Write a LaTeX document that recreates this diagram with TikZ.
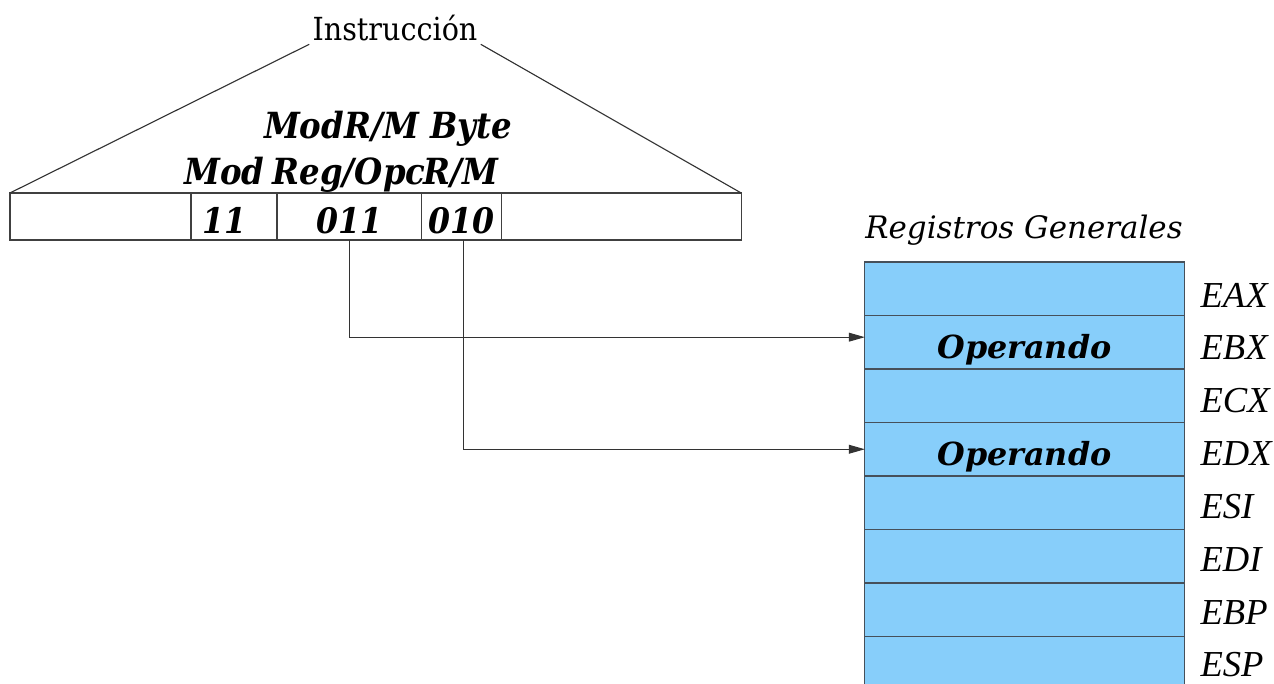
\documentclass[tikz,border=0pt]{standalone}
\usepackage{fontspec}
\setmainfont{DejaVu Serif}
\newfontfamily\condserif{DejaVu Serif Condensed}
\newfontfamily\regserif{Liberation Serif}
\usetikzlibrary{positioning,arrows.meta}
\definecolor{regblue}{RGB}{135,206,250}
\definecolor{regline}{RGB}{70,80,90}
\tikzset {
    style A/.style={
        draw=black!75,
        rectangle, % Set the shape as a rectangle
        inner sep=0pt,
        outer sep=0pt,
        minimum height=5.875mm,
        text height=11.8pt,
        text depth=0pt,
        font=\condserif\bfseries\itshape\fontsize{12.5}{14}\selectfont,
    },
    style B/.style={
        fill=regblue,
        draw=regline,
        rectangle, % Set the shape as a rectangle
        inner sep=0pt,
        outer sep=0pt,
        minimum width=3.99cm,
        minimum height=6.6875mm,
        text height=11.4pt,
        text depth=0pt,
        font=\bfseries\itshape\fontsize{11.3}{13}\selectfont,
    },
    style C/.style={
        inner sep=0pt,
        font=\condserif\bfseries\itshape\fontsize{12.8}{15}\selectfont,
    },
    style D/.style={
        inner sep=0pt,
        anchor=west,
        font=\regserif\itshape\fontsize{13}{15}\selectfont,
    },
    style F/.style={
        draw=black!80,
        -{Triangle[length=2mm,width=1.1mm]},
    },
}
\begin{document}
\begin{tikzpicture}[x=0.0125cm, y=-0.0125cm]
    \useasboundingbox (0,0) rectangle (1274,684);

    % instruction bar
    \node[style A, minimum width=2.2625cm] (c0) at (100.5,216.5) {};
    \node[style A, minimum width=1.075cm, right=0pt of c0] (c1) {11\kern7pt};
    \node[style A, minimum width=1.8cm, right=0pt of c1] (c2) {011};
    \node[style A, minimum width=1cm, right=0pt of c2] (c3) {010};
    \node[style A, minimum width=3cm, right=0pt of c3] (c4) {};

    \node[style C, anchor=base] (lmod) at ([xshift=-3.5pt,yshift=3pt]c1.north) {Mod};
    \node[style C, anchor=base] (lreg) at ([yshift=3pt]c2.north) {Reg/Opc};
    \node[style C, anchor=base] (lrm) at ([yshift=3pt]c3.north) {R/M};
    \node[style C] (lbyte) at (388,129) {ModR/M Byte};

    \node[inner sep=1pt, font=\condserif\fontsize{11.3}{13}\selectfont] (instr) at (395,28) {Instrucción};
    \draw[draw=black!80] (instr.south west) -- (c0.north west);
    \draw[draw=black!80] (instr.south east) -- (c4.north east);

    % general registers
    \node[inner sep=0pt, font=\itshape\fontsize{11}{13}\selectfont] (title) at (1024,230) {Registros Generales};
    \foreach \r/\t [count=\i from 0] in {EAX/,EBX/Operando,ECX/,EDX/Operando,ESI/,EDI/,EBP/,ESP/} {
        \node[style B] (\r) at (1024.5,{288.75+53.5*\i}) {\t};
        \node[style D] (l\r) at (1200,{295+52.85*\i}) {\r};
    }

    \draw[style F] (c2.south) |- ([yshift=1.8pt]EBX.west);
    \draw[style F] ([xshift=1pt]c3.south) |- (EDX.west);
\end{tikzpicture}
\end{document}
